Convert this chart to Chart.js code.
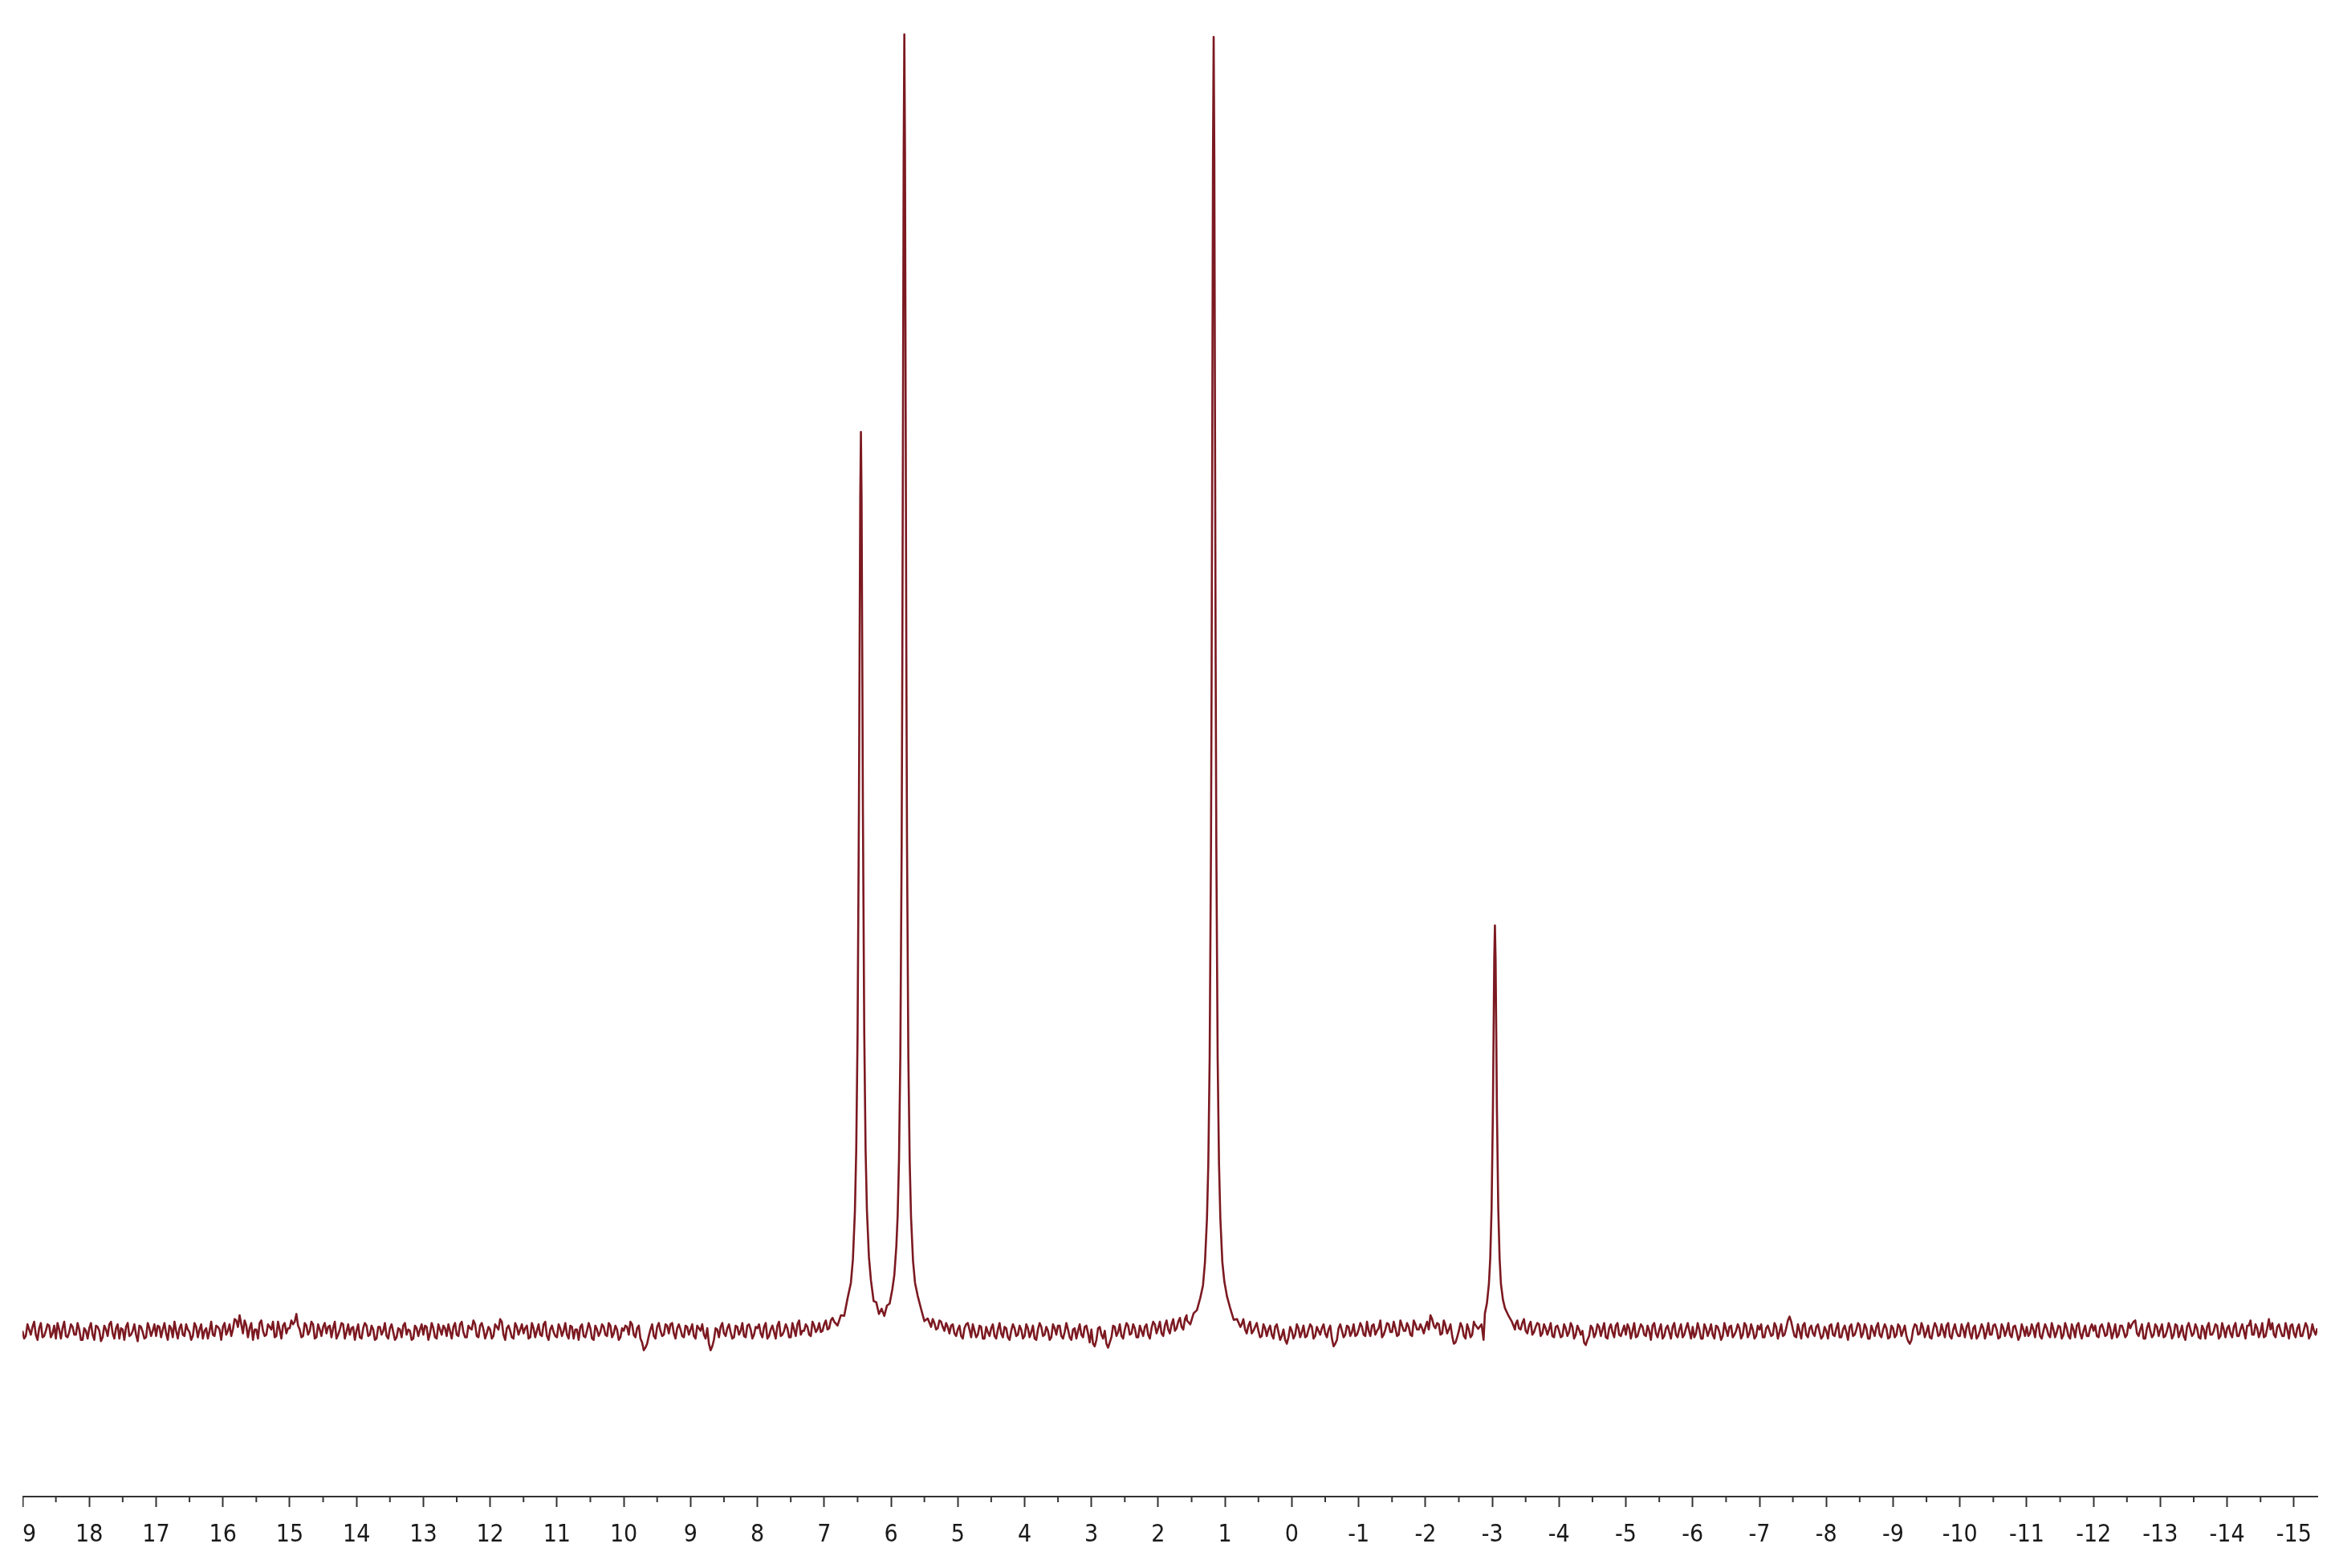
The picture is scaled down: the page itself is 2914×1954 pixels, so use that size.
<!DOCTYPE html>
<html>
<head>
<meta charset="utf-8">
<script src="https://cdn.jsdelivr.net/npm/chart.js@4.4.1/dist/chart.umd.min.js"></script>
<style>
  html, body { margin: 0; padding: 0; background: #fff; overflow: hidden; }
  #wrap { position: absolute; left: 28px; top: 0; width: 2886px; height: 1954px; }
</style>
</head>
<body>
<div id="wrap"><canvas id="spectrum"></canvas></div>
<script>
// axis labels (ppm), high field on the right
const tickValues = [19, 18, 17, 16, 15, 14, 13, 12, 11, 10, 9, 8, 7, 6, 5, 4, 3, 2, 1, 0,
    -1, -2, -3, -4, -5, -6, -7, -8, -9, -10, -11, -12, -13, -14, -15];

// baseline noise, one value every 0.05 ppm from 19.00 ppm
const noiseStart = 19.0;
const noiseStep = 0.05;
const noise = [
    0.1,-0.3,0.2,0.4,-0.2,0.3,-0.4,0.1,0.5,-0.1,-0.5,0.2,0.3,-0.3,0.0,0.4,-0.2,0.2,-0.6,0.1,
    0.3,-0.2,0.5,0.1,-0.4,0.2,0.6,-0.1,0.3,-0.5,0.2,0.4,-0.3,0.1,-0.2,0.5,0.0,-0.4,0.3,0.1,
    -0.3,0.4,0.2,-0.1,0.5,-0.4,0.1,0.3,-0.2,0.6,0.0,-0.3,0.4,0.2,-0.5,0.3,0.1,-0.2,0.5,0.2,
    0.4,-0.2,0.6,0.2,0.9,1.3,-0.1,0.5,0.3,-0.6,0.2,0.7,0.1,-0.2,0.4,0.8,-0.3,0.2,0.5,-0.1,
    0.3,0.6,1.4,0.2,-0.3,0.5,0.1,0.6,-0.4,0.2,0.4,-0.1,0.5,0.3,-0.5,0.2,0.6,0.0,-0.2,0.4,
    0.1,-0.4,0.3,0.5,-0.2,0.2,-0.5,0.4,0.1,-0.3,0.3,0.0,-0.4,0.2,0.5,-0.2,0.1,-0.5,0.3,0.2,
    -0.2,0.4,-0.1,0.3,-0.5,0.2,0.5,-0.3,0.1,0.4,-0.2,0.6,0.0,-0.4,0.3,0.9,-0.3,0.5,0.2,-0.1,
    0.2,-0.3,0.4,1.0,-0.2,0.3,0.1,-0.5,0.4,0.2,-0.1,0.5,-0.4,0.3,0.1,-0.2,0.6,-0.3,0.2,0.0,
    -0.4,0.3,0.1,-0.2,0.5,-0.5,0.2,0.4,-0.3,0.1,0.3,-0.6,0.2,0.0,0.4,-0.3,0.5,-0.1,0.2,-0.4,
    0.1,0.4,0.8,-0.2,0.3,-0.5,-1.4,-0.9,0.2,-0.3,0.4,0.1,-0.2,0.5,0.6,-0.1,0.3,0.2,-0.4,0.4,
    0.2,-0.3,0.5,0.1,-0.2,0.3,-1.4,-0.6,0.2,0.4,-0.1,0.3,0.0,-0.4,0.4,0.1,-0.3,0.5,0.2,-0.2,
    0.3,-0.1,0.4,-0.5,0.2,0.0,0.5,-0.3,0.1,0.3,-0.4,0.2,0.6,-0.2,0.1,0.4,-0.3,0.5,0.2,0.0,
    0.6,0.2,0.9,0,0,0,0,0,0,0,0,0,0,0,0,0,0,0,0,0,
    0,0,0,0,0,0,0,0,0,0,0,0,0,0.7,0.3,0.8,0.1,0.4,0.5,-0.1,
    0.2,-0.3,0.3,0.7,-0.4,0.1,-0.2,0.4,-0.5,0.0,0.3,-0.3,0.2,-0.1,0.4,-0.4,0.1,0.3,-0.2,0.2,
    -0.3,0.3,0.0,-0.5,0.2,0.4,-0.2,0.1,-0.4,0.3,0.5,-0.3,0.0,0.2,-0.6,0.3,0.1,-0.2,0.4,-0.1,
    0.2,-1.1,0.3,-0.2,0.1,-1.2,-0.4,0.4,0.0,-0.3,0.2,0.5,-0.1,0.3,-0.4,0.1,0.4,-0.2,0.3,0.6,
    0.3,-0.1,0.5,0.2,0.6,0.1,0.8,0.4,1.0,0,0,0,0,0,0,0,0,0,0,0,
    0,0,0,0,0,0.6,0.2,0.5,-0.1,0.4,0.1,-0.3,0.3,0.2,-0.2,0.4,0.0,-0.3,-0.6,-0.4,
    0.1,-0.2,0.3,0.0,-0.4,0.2,0.4,-0.3,0.1,0.3,-0.1,0.2,-0.5,-0.9,0.3,0.1,-0.2,0.4,0.0,-0.3,
    0.2,0.4,-0.3,0.1,0.5,-0.2,0.3,-0.4,0.2,0.6,0.0,0.3,-0.2,0.5,0.1,0.4,-0.3,0.6,0.2,0.3,
    0.4,0.2,1.0,0.3,0.6,-0.1,0.5,0.2,-0.3,-0.8,0.1,0.4,-0.5,0.2,-0.2,0,0,0,0,0,
    0,0,0,0,0,0,0,0.6,0.3,0.7,0.1,0.5,-0.2,0.4,0.6,-0.1,0.3,0.2,-0.3,0.4,
    0.1,-0.3,0.3,0.0,0.4,-0.2,0.2,0.1,-1.0,-0.3,0.3,-0.1,0.4,0.2,-0.4,0.3,0.0,0.5,-0.2,0.1,
    -0.2,0.3,0.1,-0.4,0.2,0.4,-0.3,0.1,0.5,-0.1,0.2,-0.5,0.3,0.0,0.4,-0.2,0.2,-0.4,0.3,0.1,
    0.4,-0.1,0.2,-0.5,0.3,0.1,-0.2,0.5,0.0,-0.3,0.2,0.4,-0.4,0.1,0.3,-0.2,0.5,-0.1,0.2,-0.3,
    0.2,-0.4,0.3,0.1,-0.2,0.4,0.0,-0.3,0.3,1.2,0.2,-0.4,0.1,0.5,-0.2,0.3,-0.1,0.4,0.0,-0.3,
    0.1,0.5,-0.2,0.3,-0.4,0.2,0.0,0.4,-0.3,0.2,0.5,-0.1,0.3,-0.5,0.1,0.4,-0.2,0.2,0.3,-0.4,
    0.3,-0.2,0.4,0.1,-0.3,-0.9,0.2,0.5,-0.1,0.3,0.0,-0.4,0.2,0.4,-0.2,0.1,0.5,-0.3,0.2,0.0,
    -0.3,0.2,0.4,-0.1,0.3,-0.5,0.1,0.3,0.0,-0.2,0.5,0.2,-0.4,0.3,0.1,-0.2,0.4,0.0,-0.3,0.2,
    0.4,-0.1,0.2,0.5,-0.3,0.1,0.3,-0.4,0.2,0.0,0.4,-0.2,0.3,-0.5,0.2,0.5,-0.1,0.1,-0.3,0.3,
    0.1,-0.3,0.4,0.2,-0.2,0.3,0.0,-0.4,0.5,0.1,-0.2,0.3,0.8,-0.1,0.2,-0.5,0.3,0.1,-0.2,0.4,
    0.2,-0.4,0.1,0.3,-0.2,0.5,0.0,-0.3,0.4,0.2,-0.1,0.3,-0.5,0.2,0.4,-0.2,0.1,0.5,-0.3,0.2,
    0.3,-0.1,0.4,-0.3,0.2,0.1,0.5,0.9,-0.2,0.3,0.0,-0.4,0.3,0.2,-0.2,0.4,0.1,-0.3,0.2,0.5,
    -0.1,0.3,-0.3,0.2,0.4,-0.2,0.1,0.3
];

// the in-between samples, 0.025 ppm after each of the above
const noiseMidStart = 18.975;
const noiseMid = [
    -0.5,0.6,-0.2,0.8,-0.6,0.7,-0.3,0.6,-0.4,0.5,0.7,-0.5,0.8,-0.4,0.6,-0.2,0.7,-0.6,0.3,-0.5,
    0.7,-0.6,0.4,-0.7,0.5,-0.3,0.8,-0.5,0.6,0.3,-0.6,0.7,-0.2,0.6,-0.7,0.4,-0.5,0.7,-0.3,0.6,
    0.5,-0.4,0.7,-0.6,0.3,0.8,-0.5,0.6,-0.3,0.2,-0.6,0.7,-0.4,0.6,0.1,-0.5,0.8,-0.3,0.4,-0.6,
    0.7,0.1,-0.3,1.0,0.4,0.6,0.9,-0.4,0.7,0.2,-0.5,0.9,-0.3,0.6,0.2,-0.4,0.8,-0.5,0.7,0.3,
    0.9,0.8,0.5,-0.4,0.7,-0.2,0.8,-0.5,0.6,-0.3,0.7,0.4,-0.4,0.8,-0.2,0.7,-0.5,0.6,0.3,-0.6,
    0.6,-0.5,0.7,-0.3,0.5,-0.6,0.4,-0.2,0.7,-0.5,0.6,-0.6,0.3,-0.4,0.7,0.2,-0.6,0.5,-0.3,0.6,
    0.5,-0.6,0.7,-0.4,0.6,-0.2,0.3,0.6,-0.5,0.7,-0.3,0.8,-0.4,0.5,0.2,0.6,-0.4,0.7,-0.5,0.4,
    -0.5,0.6,0.2,0.8,-0.6,0.5,-0.4,0.7,-0.2,0.6,0.3,-0.5,0.7,-0.4,0.6,-0.3,0.8,-0.6,0.5,-0.3,
    0.6,-0.3,0.7,-0.5,0.4,0.2,-0.6,0.6,-0.4,0.7,-0.5,0.5,-0.3,0.6,-0.2,0.7,-0.4,0.5,-0.6,0.3,
    0.5,-0.2,0.6,-0.4,0.5,-0.8,-1.2,-0.3,0.6,-0.5,0.7,-0.3,0.6,-0.1,0.7,-0.5,0.6,-0.3,0.5,-0.2,
    0.6,-0.5,0.3,0.6,-0.5,-0.9,-1.1,0.3,-0.4,0.7,-0.3,0.6,-0.5,0.5,-0.2,0.7,-0.4,0.6,-0.5,0.4,
    0.6,-0.4,0.7,-0.3,0.5,-0.5,0.8,-0.2,0.6,-0.4,0.7,-0.3,0.9,0.1,0.6,-0.2,0.8,0.0,0.7,0.1,
    0.9,0.3,1.1,0,0,0,0,0,0,0,0,0,0,0,0,0,0,0,0,0,
    0,0,0,0,0,0,0,0,0,0,0,0,1.0,0.2,0.9,0.4,0.7,-0.1,0.6,-0.3,
    0.5,-0.5,0.6,0.2,0.6,-0.4,0.5,-0.5,0.4,-0.3,0.6,-0.5,0.7,-0.4,0.3,-0.6,0.6,-0.3,0.5,-0.5,
    0.6,-0.4,0.5,-0.6,0.7,-0.3,0.4,-0.6,0.6,-0.2,0.5,-0.5,0.7,-0.4,0.2,-0.5,0.6,-0.4,0.5,-0.8,
    -0.9,-0.6,0.4,-0.5,-0.9,-0.8,0.5,-0.3,0.6,-0.5,0.7,-0.2,0.6,-0.4,0.5,-0.3,0.6,-0.5,0.8,-0.1,
    0.8,-0.3,0.9,-0.1,1.0,0.3,1.1,0.2,1.3,0,0,0,0,0,0,0,0,0,0,0,
    0,0,0,0,0,1.0,-0.1,0.8,0.1,0.7,-0.4,0.6,-0.3,0.5,-0.5,0.6,-0.6,0.2,-0.9,0.4,
    -0.5,0.6,-0.4,0.5,-0.3,0.6,-0.5,0.4,-0.2,0.6,-0.4,0.5,-1.1,-0.6,0.6,-0.4,0.5,-0.3,0.6,-0.2,
    0.7,-0.2,0.8,-0.3,0.6,0.1,0.9,-0.2,0.7,0.0,0.8,-0.3,0.9,0.1,0.7,-0.2,0.9,0.2,0.6,-0.1,
    0.8,1.3,0.5,0.7,-0.2,0.9,-0.1,0.6,-0.9,-0.4,0.7,-0.3,0.6,-0.4,0.8,0,0,0,0,0,
    0,0,0,0,0,0,0,0.9,0.2,1.0,-0.1,0.8,0.0,0.7,-0.3,0.6,-0.2,0.7,-0.4,0.5,
    -0.4,0.6,-0.3,0.7,-0.5,0.5,-0.2,-0.8,-0.6,0.5,-0.4,0.6,-0.3,0.7,-0.5,0.6,-0.4,0.7,-0.3,0.5,
    0.6,-0.5,0.7,-0.3,0.6,-0.2,0.5,-0.6,0.7,-0.4,0.6,-0.3,0.5,-0.5,0.7,-0.4,0.6,-0.2,0.7,-0.5,
    -0.4,0.7,-0.5,0.6,-0.3,0.6,-0.5,0.4,-0.6,0.7,-0.3,0.5,-0.2,0.6,-0.5,0.7,-0.4,0.6,-0.5,0.5,
    0.6,-0.4,0.5,-0.3,0.7,-0.5,0.6,-0.2,0.9,0.8,-0.3,0.6,-0.5,0.7,-0.4,0.5,-0.3,0.6,-0.5,0.4,
    -0.5,0.6,-0.3,0.7,-0.4,0.5,-0.6,0.6,-0.2,0.7,-0.4,0.6,-0.5,0.5,-0.3,0.7,-0.4,0.6,-0.5,0.5,
    -0.4,0.6,-0.3,0.5,-0.7,-0.6,0.6,-0.2,0.7,-0.4,0.5,-0.5,0.7,-0.3,0.6,-0.4,0.7,-0.5,0.6,-0.3,
    0.6,-0.4,0.7,-0.5,0.5,-0.3,0.6,-0.5,0.7,-0.2,0.6,-0.5,0.6,-0.3,0.7,-0.4,0.5,-0.6,0.6,-0.3,
    -0.3,0.6,-0.4,0.7,-0.5,0.6,-0.2,0.7,-0.4,0.5,-0.5,0.7,-0.3,0.6,-0.4,0.7,-0.5,0.5,-0.3,0.6,
    0.5,-0.4,0.6,-0.3,0.7,-0.5,0.6,-0.2,0.5,-0.4,0.7,0.6,0.9,-0.3,0.6,-0.5,0.7,-0.4,0.6,-0.3,
    0.6,-0.3,0.7,-0.5,0.6,-0.4,0.5,-0.6,0.7,-0.3,0.6,-0.4,0.5,-0.5,0.7,-0.2,0.6,-0.5,0.7,-0.4,
    0.5,-0.4,0.7,-0.3,0.6,-0.5,0.5,-0.2,0.6,-0.4,0.7,-0.3,1.0,0.7,-0.4,0.6,-0.3,0.7,-0.5,0.6,
    -0.4,0.6,-0.3,0.7,-0.5,0.6,-0.2
];

// peak regions, sampled finer (ppm / intensity, tallest peak = 100)
const pairPpm = [6.85,6.80,6.75,6.70,6.65,6.60,6.57,6.54,6.52,6.50,6.48,6.47,6.46,6.45,6.44,6.43,6.42,
    6.40,6.38,6.36,6.33,6.30,6.26,6.22,6.18,6.14,6.10,6.06,6.02,5.98,5.95,5.92,5.90,5.88,5.86,5.84,
    5.83,5.82,5.81,5.80,5.79,5.78,5.77,5.76,5.74,5.72,5.70,5.67,5.64,5.60,5.55,5.50,5.45,5.40];
const pairInt = [0.8,0.5,1.3,1.25,2.6,3.8,5.6,9.3,14.1,23.0,40.1,52.4,64.3,69.5,64.3,52.4,40.2,
    23.1,14.1,9.4,5.8,4.0,2.4,2.3,1.4,1.8,1.25,2.05,2.2,3.3,4.4,6.6,9.0,13.3,21.3,37.7,
    51.8,70.8,90.8,100.2,90.8,70.8,51.8,37.7,21.2,13.2,8.9,5.5,3.8,2.8,1.8,0.85,1.05,0.4];

const midPpm = [1.57,1.52,1.47,1.42,1.37,1.33,1.30,1.27,1.25,1.23,1.21,1.20,1.19,1.18,1.17,
    1.16,1.15,1.14,1.13,1.11,1.09,1.07,1.04,1.01,0.97,0.92,0.87,0.82,0.77];
const midInt = [0.9,0.6,1.45,1.7,2.65,3.6,5.4,8.8,13.0,21.1,37.5,51.6,70.6,90.6,100,
    90.6,70.6,51.6,37.5,21.1,13.0,8.8,5.4,3.9,2.75,1.8,0.95,1.0,0.4];

const highPpm = [-2.74,-2.79,-2.84,-2.87,-2.89,-2.92,-2.95,-2.97,-2.99,-3.01,-3.02,-3.03,-3.04,
    -3.05,-3.06,-3.07,-3.09,-3.11,-3.13,-3.16,-3.19,-3.24,-3.29,-3.34];
const highInt = [0.6,0.25,0.6,-0.6,1.45,2.21,3.72,5.71,9.53,17.2,23.0,28.8,31.4,
    28.8,23.0,17.2,9.53,5.71,3.72,2.5,1.85,1.3,0.85,0.2];

const peakRegions = [[pairPpm, pairInt], [midPpm, midInt], [highPpm, highInt]];

function inPeakRegion(x) {
    return peakRegions.some(([p]) => x <= p[0] + 1e-6 && x >= p[p.length - 1] - 1e-6);
}

const points = [];
function addNoise(start, values) {
    values.forEach((v, i) => {
        const x = +(start - i * noiseStep).toFixed(3);
        if (x >= -15.35 && !inPeakRegion(x)) points.push({ x: x, y: v });
    });
}
addNoise(noiseStart, noise);
addNoise(noiseMidStart, noiseMid);
peakRegions.forEach(([p, v]) => p.forEach((x, i) => points.push({ x: x, y: v[i] })));
points.sort((a, b) => b.x - a.x);

// half-unit ticks on the ppm axis
const minorTicks = {
    id: "minorTicks",
    afterDraw(chart) {
        const s = chart.scales.x;
        const ctx = chart.ctx;
        ctx.save();
        ctx.strokeStyle = "#333";
        ctx.lineWidth = 2;
        tickValues.forEach(v => {
            const px = s.getPixelForValue(v - 0.5);
            if (px > s.right) return;
            ctx.beginPath();
            ctx.moveTo(px, s.top);
            ctx.lineTo(px, s.top + 7);
            ctx.stroke();
        });
        ctx.restore();
    },
};

const ctx = document.getElementById("spectrum").getContext("2d");
new Chart(ctx, {
    type: "line",
    data: {
        datasets: [
            {
                data: points,
                borderColor: "#7c1921",
                borderWidth: 2.6,
                borderJoinStyle: "round",
                // a solid "dash" keeps Chart.js off its pixel-merging fast path,
                // which left notches on the steep peak flanks
                borderDash: [100000, 0],
                pointRadius: 0,
                tension: 0,
                fill: false,
            },
        ],
    },
    options: {
        responsive: true,
        maintainAspectRatio: false,
        animation: false,
        layout: { padding: { left: 0, right: 27, top: 0, bottom: 6 } },
        plugins: {
            legend: { display: false },
            tooltip: { enabled: false },
        },
        scales: {
            x: {
                type: "linear",
                reverse: true,
                min: -15.35,
                max: 19.0,
                afterBuildTicks: s => {
                    s.ticks = tickValues.map(v => ({ value: v }));
                },
                afterFit: s => {
                    s.paddingLeft = 0;
                    s.paddingRight = 0;
                },
                border: { display: true, color: "#333", width: 2 },
                grid: {
                    drawOnChartArea: false,
                    drawTicks: true,
                    tickLength: 13,
                    tickColor: "#333",
                    tickWidth: 2,
                },
                ticks: {
                    autoSkip: false,
                    maxRotation: 0,
                    padding: 17,
                    color: "#1a1a1a",
                    font: { family: "'DejaVu Sans Condensed', 'Liberation Sans Narrow', 'DejaVu Sans', sans-serif", size: 30 },
                    callback: v => String(v),
                },
            },
            y: {
                display: false,
                min: -12.7,
                max: 102.85,
            },
        },
    },
    plugins: [minorTicks],
});
</script>
</body>
</html>
